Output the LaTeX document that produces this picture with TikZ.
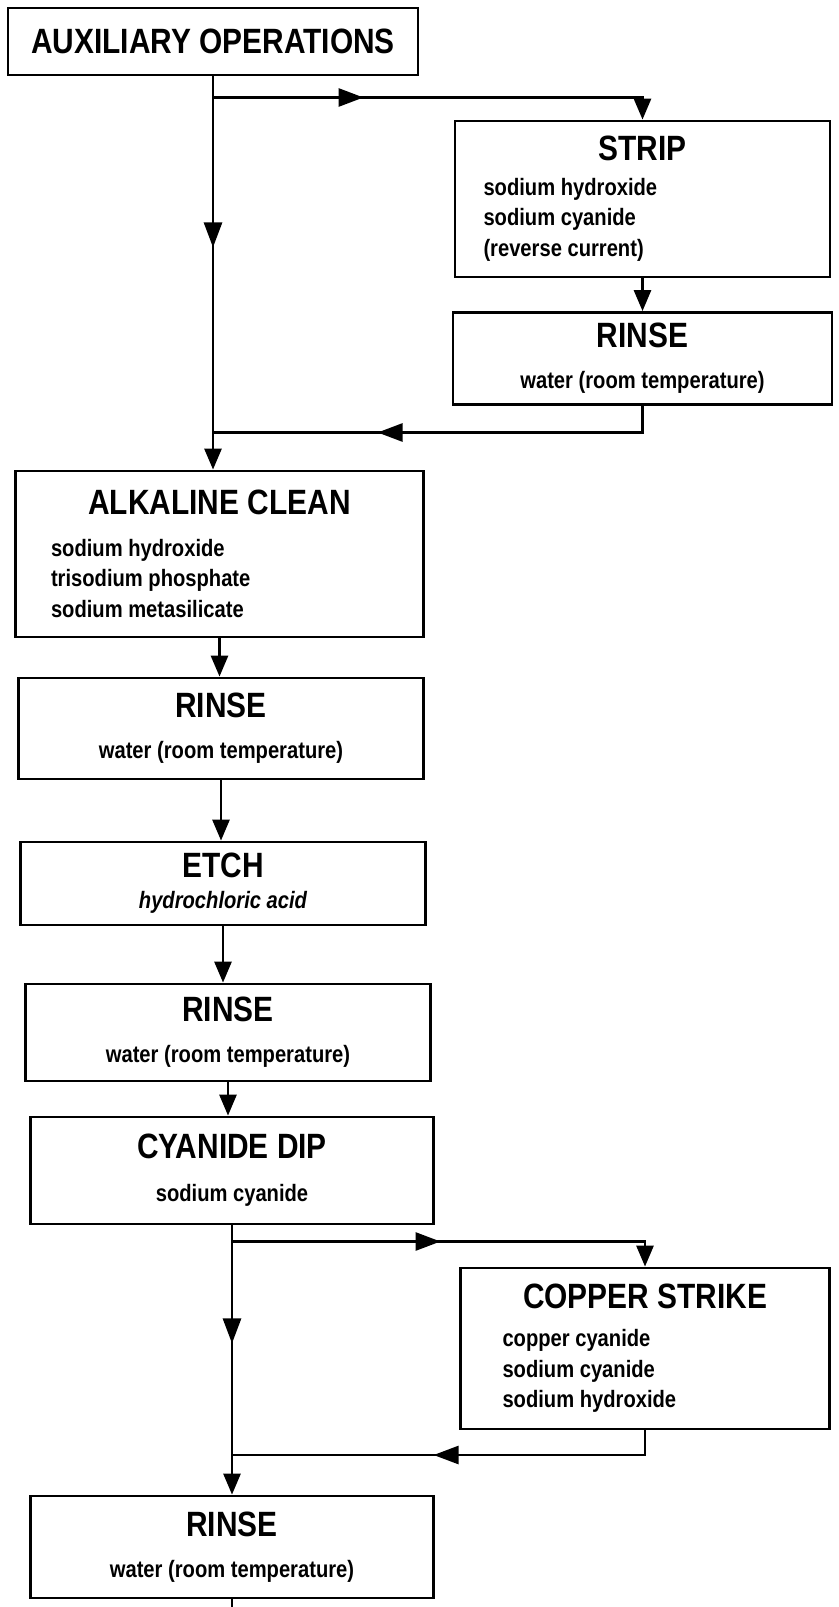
\documentclass[tikz,border=0pt]{standalone}
\usepackage{fontspec}
\setmainfont{Liberation Sans}[FakeStretch=0.85]
\usetikzlibrary{arrows.meta, positioning, decorations.markings}
\newcommand{\ttl}[1]{{\fontsize{20}{23}\selectfont #1}}

\begin{document}
\begin{tikzpicture}[
  box/.style={draw, line width=1.6pt, align=center,
              font=\fontsize{13.5}{17.5}\selectfont\bfseries},
  lbox/.style={box, align=flush left, text width=#1},
  flow/.style={line width=1.6pt},
  arr/.style={flow, -{Triangle[length=0.42cm, width=0.34cm]}},
  midarr/.style={postaction={decorate, decoration={markings,
     mark=at position #1 with {\arrow{Triangle[length=0.5cm, width=0.36cm]}}}}}
]
\useasboundingbox (0,0) rectangle (16.76,-32.14);

% Nodes (main column)
\node[box, minimum width=8.2cm, minimum height=1.34cm] (aux) at (4.26,-0.83)
  {\ttl{AUXILIARY OPERATIONS}};
\node[lbox=6.74cm, inner xsep=0.71cm, minimum height=3.32cm] (alk) at (4.39,-11.08)
  {\makebox[\linewidth]{\ttl{ALKALINE CLEAN}}\\[6pt]
   sodium hydroxide\\ trisodium phosphate\\ sodium metasilicate};
\node[box, minimum width=8.1cm, minimum height=2.02cm] (rin2) at (4.42,-14.57)
  {\ttl{RINSE}\\[6pt] water (room temperature)};
\node[box, minimum width=8.1cm, minimum height=1.66cm] (etch) at (4.46,-17.67)
  {\ttl{ETCH}\\ \itshape hydrochloric acid};
\node[box, minimum width=8.1cm, minimum height=1.94cm] (rin3) at (4.56,-20.65)
  {\ttl{RINSE}\\[6pt] water (room temperature)};
\node[box, minimum width=8.06cm, minimum height=2.14cm] (cya) at (4.64,-23.41)
  {\ttl{CYANIDE DIP}\\[7pt] sodium cyanide};
\node[box, minimum width=8.06cm, minimum height=2.04cm] (rin4) at (4.64,-30.94)
  {\ttl{RINSE}\\[6pt] water (room temperature)};

% Nodes (side branches)
\node[lbox=6.36cm, inner xsep=0.57cm, minimum height=3.12cm] (strip) at (12.85,-3.98)
  {\makebox[\linewidth]{\ttl{STRIP}}\\[2pt]
   sodium hydroxide\\ sodium cyanide\\ (reverse current)};
\node[box, minimum width=7.58cm, minimum height=1.84cm] (rin1) at (12.85,-7.17)
  {\ttl{RINSE}\\[6pt] water (room temperature)};
\node[lbox=5.7cm, inner xsep=0.84cm, minimum height=3.22cm] (cop) at (12.9,-26.97)
  {\makebox[\linewidth]{\ttl{COPPER STRIKE}}\\[4pt]
   copper cyanide\\ sodium cyanide\\ sodium hydroxide};

% Junctions
\coordinate (sp1) at (4.26,-1.95);
\coordinate (jn1) at (4.26,-8.65);
\coordinate (sp2) at (4.64,-24.83);
\coordinate (jn2) at (4.64,-29.1);
\coordinate (tail) at (4.64,-32.14);

% Connectors
\draw[arr, midarr=3.42cm] (aux.south) -- (aux.south |- alk.north);
\draw[arr, midarr=3.01cm] (sp1) -| (strip.north);
\draw[arr] (strip.south) -- (rin1.north);
\draw[flow, midarr=5.83cm] (rin1.south) |- (jn1);
\draw[arr] (alk.south) -- (alk.south |- rin2.north);
\draw[arr] (rin2.south) -- (rin2.south |- etch.north);
\draw[arr] (etch.south) -- (etch.south |- rin3.north);
\draw[arr] (rin3.south) -- (rin3.south |- cya.north);
\draw[arr, midarr=2.36cm] (cya.south) -- (rin4.north);
\draw[arr, midarr=4.17cm] (sp2) -| (cop.north);
\draw[flow, midarr=4.72cm] (cop.south) |- (jn2);
\draw[flow] (rin4.south) -- (tail);
\end{tikzpicture}
\end{document}
